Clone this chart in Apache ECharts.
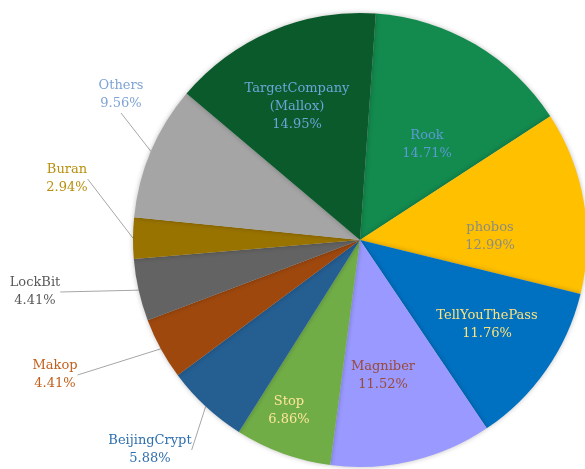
<!DOCTYPE html>
<html>
<head>
<meta charset="utf-8">
<script src="https://cdn.jsdelivr.net/npm/echarts@6/dist/echarts.min.js"></script>
<style>
  html, body { margin: 0; padding: 0; background: #fff; }
  #chart { width: 585px; height: 469px; }
</style>
</head>
<body>
<div id="chart"></div>
<script>
// Ransomware family share (percent), clockwise from the top
const families = ['Rook', 'phobos', 'TellYouThePass', 'Magniber', 'Stop', 'BeijingCrypt', 'Makop', 'LockBit', 'Buran', 'Others', 'TargetCompany (Mallox)'];
const shares = [14.71, 12.99, 11.76, 11.52, 6.86, 5.88, 4.41, 4.41, 2.94, 9.56, 14.95];

// slice fills and label colours, same order as families
const sliceColors = ['#138a4e', '#ffc000', '#0070c0', '#9999ff', '#70ad47', '#255e91', '#9e480e', '#636363', '#997300', '#a5a5a5', '#0a5a2c'];
const labelColors = ['#5b9bd5', '#8c8c80', '#ffe27a', '#9a4a3a', '#ffe699', '#2e6fae', '#c0601c', '#5a5a5a', '#b8900c', '#7ea3d4', '#6aa6d8'];

// label anchor points (block centres) on the page
const labelSpots = [[427, 145], [490, 237], [487, 325], [383, 376], [289, 411], [150, 450], [55, 375], [35, 292], [67, 179], [121, 95], [297, 107]];
const outsideLabels = ['BeijingCrypt', 'Makop', 'LockBit', 'Buran', 'Others'];

const chart = echarts.init(document.getElementById('chart'), null, { renderer: 'canvas' });

const pieData = families.map((name, i) => ({
  name: name,
  value: shares[i],
  itemStyle: { color: sliceColors[i] },
  label: {
    color: labelColors[i],
    position: outsideLabels.includes(name) ? 'outside' : 'inside'
  },
  labelLine: { show: outsideLabels.includes(name) }
}));

chart.setOption({
  animation: false,
  series: [{
    type: 'pie',
    center: [360, 240],
    radius: [0, 227],
    startAngle: 86,
    clockwise: true,
    avoidLabelOverlap: false,
    data: pieData,
    itemStyle: {
      borderWidth: 0,
      shadowBlur: 5,
      shadowColor: 'rgba(0,0,0,0.25)'
    },
    label: {
      fontFamily: '"DejaVu Serif", serif',
      fontSize: 13,
      lineHeight: 18,
      align: 'center',
      formatter: p => p.name.replace(' ', '\n') + '\n' + p.value.toFixed(2) + '%'
    },
    labelLine: {
      length: 15,
      length2: 0,
      lineStyle: { color: '#a6a6a6', width: 1 }
    },
    labelLayout: p => {
      const spot = labelSpots[p.dataIndex];
      return { x: spot[0], y: spot[1], align: 'center', verticalAlign: 'middle' };
    }
  }]
});
</script>
</body>
</html>
